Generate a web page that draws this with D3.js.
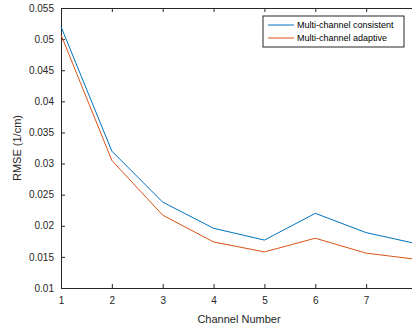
<!DOCTYPE html>
<html>
<head>
<meta charset="utf-8">
<script src="https://cdn.jsdelivr.net/npm/d3@7"></script>
<style>
  body { margin: 0; background: #fff; }
  svg { display: block; font-family: "Liberation Sans", Arial, sans-serif; }
</style>
</head>
<body>
<svg width="412" height="329"></svg>
<script>
// data
var channels = [1, 2, 3, 4, 5, 6, 7, 8];
var consistent = [0.0520, 0.0320, 0.0238, 0.0196, 0.0177, 0.0220, 0.0189, 0.0171];
var adaptive = [0.0507, 0.0305, 0.0217, 0.0174, 0.0158, 0.0180, 0.0156, 0.0146];
var yTicks = [0.01, 0.015, 0.02, 0.025, 0.03, 0.035, 0.04, 0.045, 0.05, 0.055];
var seriesNames = ["Multi-channel consistent", "Multi-channel adaptive"];
var colors = ["#0072bd", "#d95319"];

var svg = d3.select("svg"),
    margin = {top: 8, right: -5, bottom: 41, left: 61},
    width = +svg.attr("width") - margin.left - margin.right,
    height = +svg.attr("height") - margin.top - margin.bottom,
    g = svg.append("g").attr("transform", "translate(" + margin.left + "," + margin.top + ")");

var axisColor = "#262626";

var x = d3.scaleLinear().domain([1, 8]).range([0, width]);
var y = d3.scaleLinear().domain([0.01, 0.055]).range([height, 0]);

// bottom axis, ticks pointing in (last label falls outside the crop, as in the original)
var xAxis = g.append("g")
    .attr("transform", "translate(0," + height + ")")
    .call(d3.axisBottom(x).tickValues(channels).tickSize(-4).tickPadding(9)
        .tickFormat(function (d) { return x(d) > 345 ? "" : d; }));

// left axis
var yAxis = g.append("g")
    .call(d3.axisLeft(y).tickValues(yTicks).tickSize(-4).tickPadding(7)
        .tickFormat(function (d) { return String(+d.toFixed(3)); }));

// top frame with ticks
var topAxis = g.append("g")
    .call(d3.axisTop(x).tickValues(channels).tickSize(-4).tickFormat(""));

[xAxis, yAxis, topAxis].forEach(function (a) {
    a.select(".domain").attr("stroke", axisColor).attr("stroke-width", 1);
    a.selectAll(".tick line").attr("stroke", axisColor);
    a.selectAll(".tick text").attr("fill", axisColor).style("font-size", "10px");
});

var line = d3.line()
    .x(function (d, i) { return x(channels[i]); })
    .y(function (d) { return y(d); });

[consistent, adaptive].forEach(function (s, k) {
    g.append("path")
        .datum(s)
        .attr("fill", "none")
        .attr("stroke", colors[k])
        .attr("stroke-width", 1)
        .attr("d", line);
});

g.append("text")
    .attr("x", width / 2)
    .attr("y", height + 35)
    .attr("text-anchor", "middle")
    .attr("fill", axisColor)
    .style("font-size", "11px")
    .text("Channel Number");

g.append("text")
    .attr("transform", "translate(-40," + (height / 2) + ") rotate(-90)")
    .attr("text-anchor", "middle")
    .attr("fill", axisColor)
    .style("font-size", "11px")
    .text("RMSE (1/cm)");

// legend
var legend = svg.append("g").attr("transform", "translate(263,16)");
legend.append("rect")
    .attr("width", 141)
    .attr("height", 31)
    .attr("fill", "#fff")
    .attr("stroke", axisColor)
    .attr("stroke-width", 1);

var item = legend.selectAll(".item")
    .data(seriesNames)
    .enter().append("g")
    .attr("class", "item")
    .attr("transform", function (d, i) { return "translate(0," + (9 + i * 13) + ")"; });

item.append("line")
    .attr("x1", 5).attr("x2", 31)
    .attr("stroke", function (d, i) { return colors[i]; });

item.append("text")
    .attr("x", 34)
    .attr("dy", "0.35em")
    .attr("fill", "#000")
    .style("font-size", "9px")
    .text(function (d) { return d; });
</script>
</body>
</html>
